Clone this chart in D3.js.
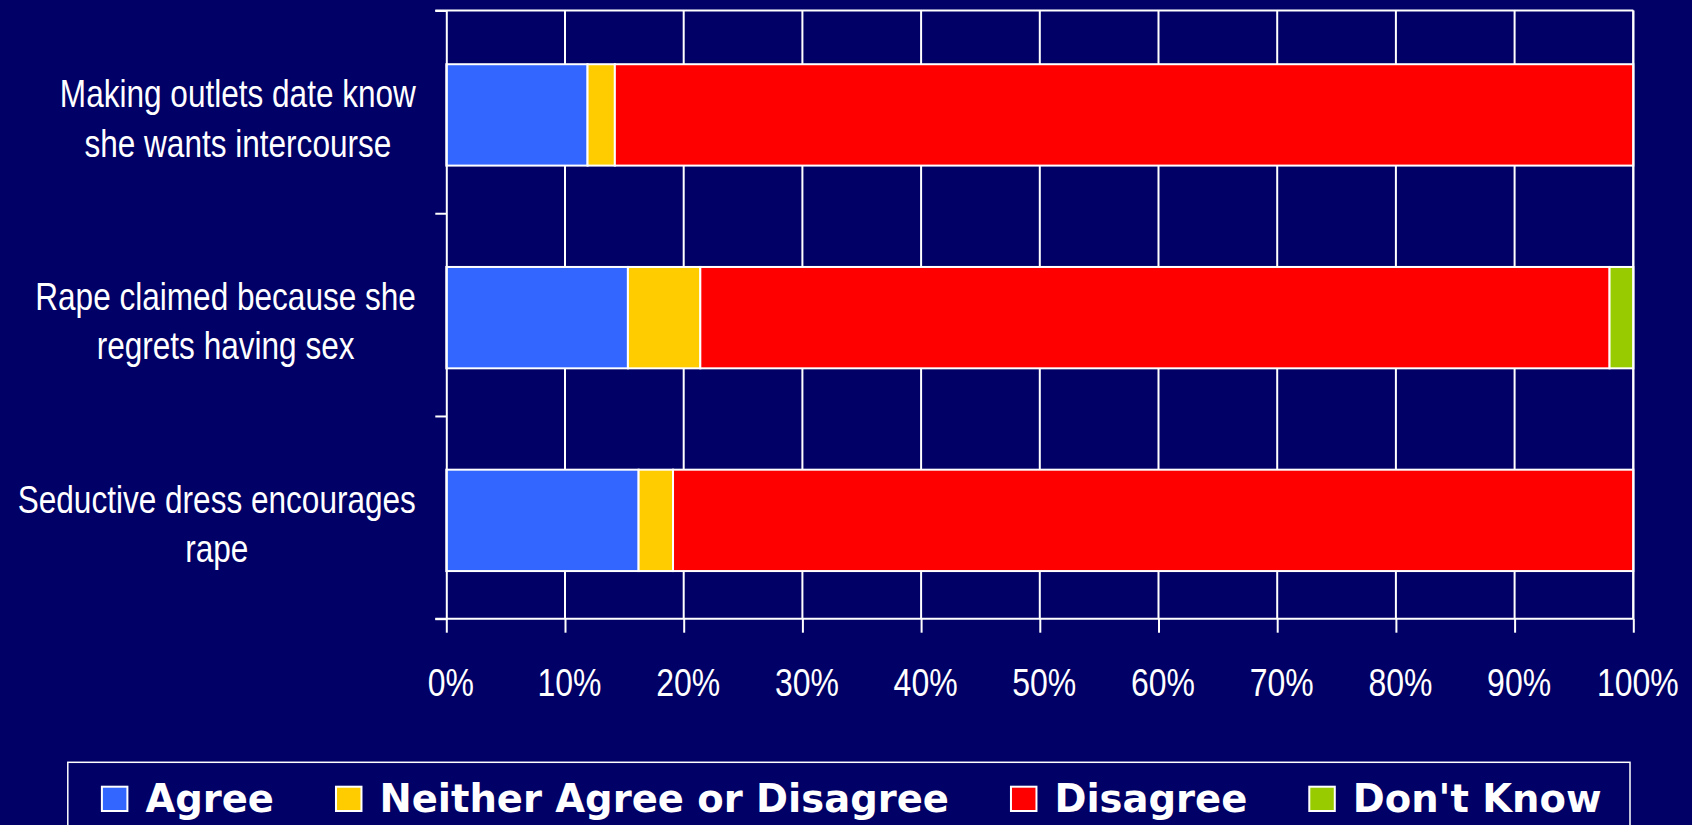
<!DOCTYPE html>
<html>
<head>
<meta charset="utf-8">
<script src="https://cdn.jsdelivr.net/npm/d3@7/dist/d3.min.js"></script>
<style>
  html, body { margin: 0; padding: 0; background: #000066; }
  svg { display: block; }
</style>
</head>
<body>
<svg id="chart" width="1692" height="825"></svg>
<script>
// ---- data ----
const categories = [
  "Making outlets date know she wants intercourse",
  "Rape claimed because she regrets having sex",
  "Seductive dress encourages rape"
];
const categoryLines = [
  ["Making outlets date know", "she wants intercourse"],
  ["Rape claimed because she", "regrets having sex"],
  ["Seductive dress encourages", "rape"]
];
const seriesNames = ["Agree", "Neither Agree or Disagree", "Disagree", "Don't Know"];
const agree    = [11.9, 15.3, 16.2];
const neither  = [2.3, 6.1, 2.9];
const disagree = [85.8, 76.6, 80.9];
const dontKnow = [0, 2.0, 0];
const xTickValues = [0, 10, 20, 30, 40, 50, 60, 70, 80, 90, 100];
const xTickLabels = ["0%", "10%", "20%", "30%", "40%", "50%", "60%", "70%", "80%", "90%", "100%"];
const seriesColors = ["#3366FF", "#FFCC00", "#FF0000", "#99CC00"];

// ---- layout ----
const svg = d3.select("#chart");
const W = 1692, H = 825;
const plot = { left: 446.3, right: 1633.3, top: 10.5, bottom: 618.7 };
const labelFont = "'Liberation Sans', Arial, sans-serif";
const narrow = 0.82; // horizontal condensing to mimic a narrow face
const legendFont = "'DejaVu Sans', Verdana, sans-serif";

svg.append("rect").attr("width", W).attr("height", H).attr("fill", "#000066");

const rows = categories.map((c, i) => ({
  cat: c,
  [seriesNames[0]]: agree[i],
  [seriesNames[1]]: neither[i],
  [seriesNames[2]]: disagree[i],
  [seriesNames[3]]: dontKnow[i]
}));
const stacked = d3.stack().keys(seriesNames)(rows);

const x = d3.scaleLinear().domain([0, 100]).range([plot.left, plot.right]);
const y = d3.scaleBand().domain(categories).range([plot.top, plot.bottom])
  .paddingInner(0.5).paddingOuter(0.25).align(0.53);
const yb = d3.scaleLinear().domain([0, categories.length]).range([plot.top, plot.bottom]);

const gridColor = "#FFFFFF";

// vertical gridlines
svg.append("g").selectAll("line").data(xTickValues.slice(1)).join("line")
  .attr("x1", d => x(d)).attr("x2", d => x(d))
  .attr("y1", plot.top).attr("y2", plot.bottom)
  .attr("stroke", gridColor).attr("stroke-width", 2);

// top border line
svg.append("line")
  .attr("x1", plot.left - 11).attr("x2", plot.right)
  .attr("y1", plot.top).attr("y2", plot.top)
  .attr("stroke", gridColor).attr("stroke-width", 2);

// bars
const seriesG = svg.append("g").selectAll("g").data(stacked).join("g")
  .attr("fill", (d, i) => seriesColors[i]);
seriesG.selectAll("rect").data(d => d.map((v, i) => ({ v, cat: categories[i] })))
  .join("rect")
  .filter(d => d.v[1] - d.v[0] > 0)
  .attr("x", d => x(d.v[0]))
  .attr("width", d => x(d.v[1]) - x(d.v[0]))
  .attr("y", d => y(d.cat))
  .attr("height", y.bandwidth())
  .attr("stroke", "#FFFFFF").attr("stroke-width", 2);

// bottom axis
const xAxis = d3.axisBottom(x).tickValues(xTickValues)
  .tickFormat((d, i) => xTickLabels[i]).tickSize(14).tickSizeOuter(0);
const gx = svg.append("g").attr("transform", `translate(0,${plot.bottom})`).call(xAxis);
gx.select(".domain").attr("stroke", gridColor).attr("stroke-width", 2)
  .attr("d", `M${plot.left - 11},0H${plot.right}`);
gx.selectAll(".tick line").attr("stroke", gridColor).attr("stroke-width", 2);
gx.selectAll(".tick text")
  .attr("fill", "#FFFFFF").attr("x", 0).attr("y", 0).attr("dy", 0)
  .attr("transform", `translate(4,77.5) scale(${narrow},1)`)
  .style("font-family", labelFont).style("font-size", "39px");

// left axis (boundary ticks, no labels)
const yAxis = d3.axisLeft(yb).tickValues(d3.range(categories.length + 1))
  .tickFormat("").tickSize(11).tickSizeOuter(0);
const gy = svg.append("g").attr("transform", `translate(${plot.left},0)`).call(yAxis);
gy.select(".domain").attr("stroke", gridColor).attr("stroke-width", 2);
gy.selectAll(".tick line").attr("stroke", gridColor).attr("stroke-width", 2);

// right border
svg.append("line")
  .attr("x1", plot.right).attr("x2", plot.right)
  .attr("y1", plot.top).attr("y2", plot.bottom)
  .attr("stroke", gridColor).attr("stroke-width", 2);

// category labels (lines centred on each other, block right-aligned)
const labelRight = 416;
categories.forEach((c, i) => {
  const cy = y(c) + y.bandwidth() / 2;
  const g = svg.append("g");
  const texts = g.selectAll("text").data(categoryLines[i]).join("text")
    .text(d => d)
    .attr("fill", "#FFFFFF")
    .style("font-family", labelFont).style("font-size", "38.5px")
    .attr("text-anchor", "middle")
    .attr("x", 0).attr("y", 0);
  let maxW = 0;
  texts.each(function () { maxW = Math.max(maxW, this.getComputedTextLength() * narrow); });
  const cx = labelRight - maxW / 2;
  texts.attr("transform", (d, j) => `translate(${cx},${cy - 7.8 + j * 49.5}) scale(${narrow},1)`);
});

// legend
const legend = svg.append("g");
legend.append("rect")
  .attr("x", 67.8).attr("y", 762.3)
  .attr("width", 1630 - 67.8).attr("height", 90)
  .attr("fill", "none").attr("stroke", "#FFFFFF").attr("stroke-width", 1.5);
let lx = 101.9;
seriesNames.forEach((name, i) => {
  legend.append("rect")
    .attr("x", lx).attr("y", 786.7).attr("width", 25.5).attr("height", 24.3)
    .attr("fill", seriesColors[i]).attr("stroke", "#FFFFFF").attr("stroke-width", 2);
  const t = legend.append("text")
    .attr("x", lx + 25.5 + 18).attr("y", 812.3)
    .attr("fill", "#FFFFFF")
    .style("font-family", legendFont).style("font-weight", "bold").style("font-size", "38.5px")
    .text(name);
  lx = lx + 25.5 + 18 + t.node().getComputedTextLength() + 62;
});
</script>
</body>
</html>
